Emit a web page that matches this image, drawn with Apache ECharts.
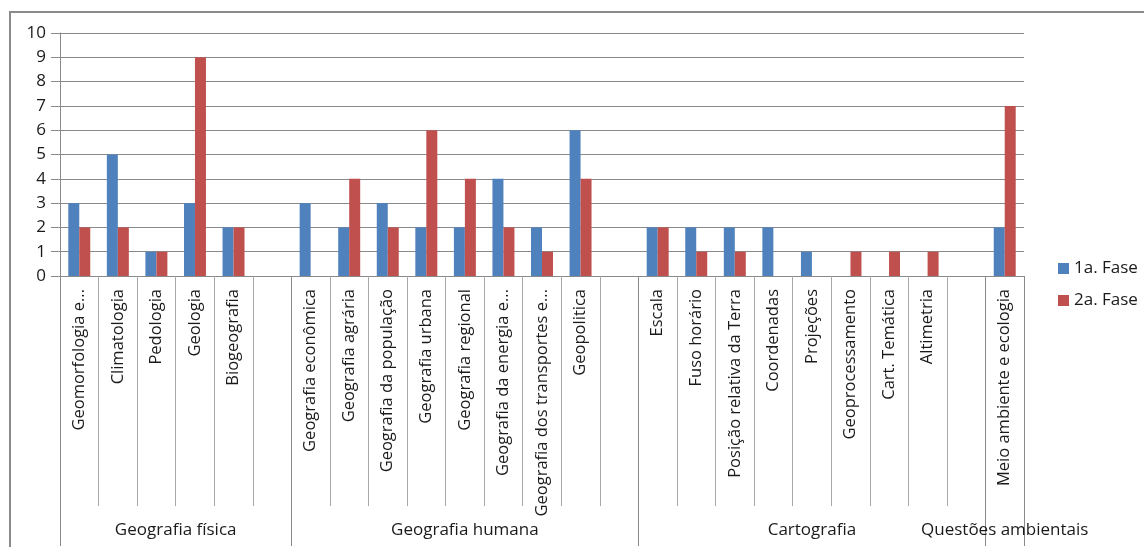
<!DOCTYPE html>
<html>
<head>
<meta charset="utf-8">
<script src="https://cdn.jsdelivr.net/npm/echarts@6/dist/echarts.min.js"></script>
<style>
  html, body { margin: 0; padding: 0; background: #fff; }
  #chart { width: 1144px; height: 547px; }
</style>
</head>
<body>
<div id="chart"></div>
<script>
// Topics (empty strings are spacer slots between thematic groups)
const categories = [
  'Geomorfologia e...', 'Climatologia', 'Pedologia', 'Geologia', 'Biogeografia', '',
  'Geografia econômica', 'Geografia agrária', 'Geografia da população', 'Geografia urbana',
  'Geografia regional', 'Geografia da energia e...', 'Geografia dos transportes e...', 'Geopolitica', '',
  'Escala', 'Fuso horário', 'Posição relativa da Terra', 'Coordenadas', 'Projeções',
  'Geoprocessamento', 'Cart. Temática', 'Altimetria', '',
  'Meio ambiente e ecologia'
];

const fase1 = [3, 5, 1, 3, 2, null, 3, 2, 3, 2, 2, 4, 2, 6, null, 2, 2, 2, 2, 1, 0, 0, 0, null, 2];
const fase2 = [2, 2, 1, 9, 2, null, 0, 4, 2, 6, 4, 2, 1, 4, null, 2, 1, 1, 0, 0, 1, 1, 1, null, 7];

const seriesNames = ['1a. Fase', '2a. Fase'];

// Thematic groups: name and [start, end) slot range on the category axis
const groupNames = ['Geografia física', 'Geografia humana', 'Cartografia', 'Questões ambientais'];
const groupStarts = [0, 6, 15, 24];
const groupEnds = [6, 15, 24, 25];

const yTicks = [0, 1, 2, 3, 4, 5, 6, 7, 8, 9, 10];

const FONT = '"Open Sans", "Noto Sans", sans-serif';
const TXT = '#1a1a1a';

const groupBounds = Array.from(new Set(groupStarts.concat(groupEnds)));
const groupCenters = groupStarts.map((s, i) => (s + groupEnds[i]) / 2);

const chart = echarts.init(document.getElementById('chart'), null, { renderer: 'canvas' });

chart.setOption({
  animation: false,
  backgroundColor: '#fff',
  textStyle: { fontFamily: FONT },
  graphic: [{
    type: 'rect',
    shape: { x: 10, y: 12, width: 1150, height: 560 },
    style: { fill: 'none', stroke: '#8a8a8a', lineWidth: 2 },
    silent: true,
    z: -1
  }],
  grid: { left: 60, right: 120, top: 33, bottom: 271, containLabel: false },
  legend: {
    orient: 'vertical',
    left: 1053,
    top: 255,
    itemWidth: 11,
    itemHeight: 11,
    itemGap: 15,
    icon: 'rect',
    textStyle: { fontFamily: FONT, fontSize: 17, color: TXT },
    data: seriesNames
  },
  xAxis: [{
    type: 'category',
    data: categories,
    boundaryGap: true,
    axisLine: { show: true, lineStyle: { color: '#8a8a8a', width: 1 } },
    axisTick: { show: true, interval: 0, length: 230, lineStyle: { color: '#a8a8a8', width: 1 } },
    axisLabel: {
      interval: 0,
      rotate: 90,
      margin: 13,
      fontFamily: FONT,
      fontSize: 16.5,
      color: TXT
    },
    splitLine: { show: false }
  }, {
    // Group level of the category axis: same span, measured in slots
    type: 'value',
    position: 'bottom',
    min: 0,
    max: categories.length,
    axisLine: { show: false },
    axisTick: {
      show: true,
      customValues: groupBounds,
      length: 270,
      lineStyle: { color: '#8a8a8a', width: 1 }
    },
    axisLabel: {
      show: true,
      customValues: groupCenters,
      margin: 246,
      fontFamily: FONT,
      fontSize: 17,
      color: TXT,
      formatter: function (v) {
        const i = groupCenters.indexOf(v);
        return i >= 0 ? groupNames[i] : '';
      }
    },
    splitLine: { show: false }
  }],
  yAxis: {
    type: 'value',
    min: yTicks[0],
    max: yTicks[yTicks.length - 1],
    interval: 1,
    axisLine: { show: true, lineStyle: { color: '#8a8a8a' } },
    axisTick: { show: true, length: 9, lineStyle: { color: '#8a8a8a' } },
    axisLabel: { margin: 14, fontFamily: FONT, fontSize: 17, color: TXT },
    splitLine: { show: true, lineStyle: { color: '#8a8a8a', width: 1 } }
  },
  series: [{
    name: seriesNames[0],
    type: 'bar',
    data: fase1,
    xAxisIndex: 0,
    barGap: '0%',
    barCategoryGap: '43%',
    itemStyle: { color: '#4F81BD' }
  }, {
    name: seriesNames[1],
    type: 'bar',
    data: fase2,
    xAxisIndex: 0,
    barGap: '0%',
    barCategoryGap: '43%',
    itemStyle: { color: '#C0504D' }
  }]
});
</script>
</body>
</html>
